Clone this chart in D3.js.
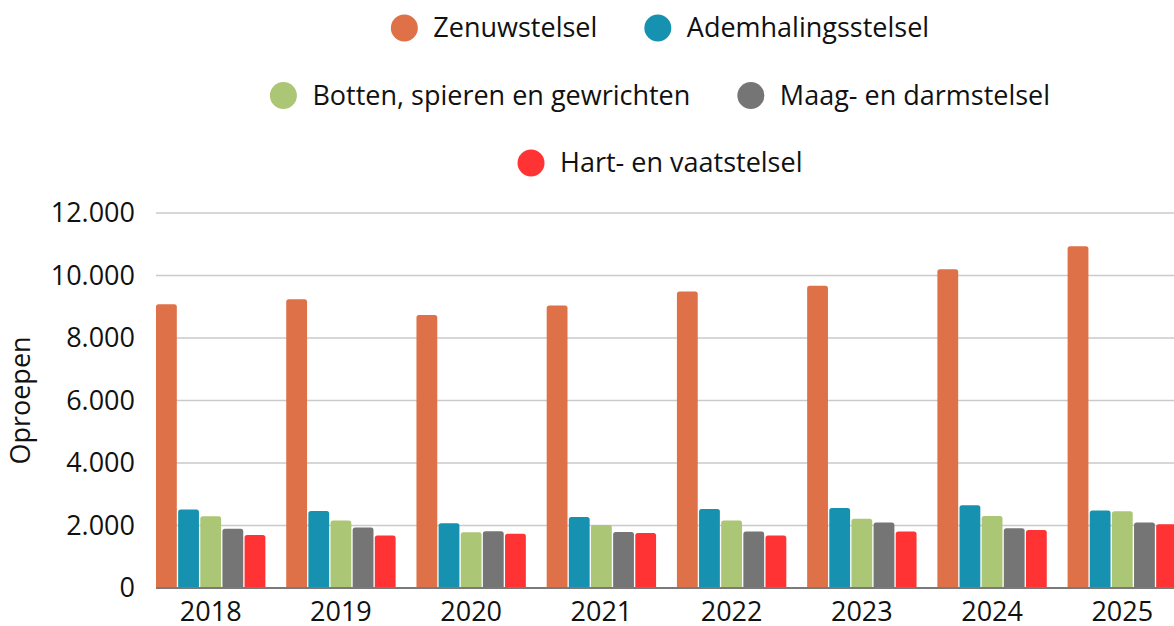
<!DOCTYPE html>
<html>
<head>
<meta charset="utf-8">
<script src="https://cdn.jsdelivr.net/npm/d3@7"></script>
<style>
  html, body { margin: 0; padding: 0; background: #fff; overflow: hidden; }
  svg { display: block; font-family: "Open Sans", "Noto Sans", sans-serif; }
</style>
</head>
<body>
<script>
//chart data
var years = ["2018", "2019", "2020", "2021", "2022", "2023", "2024", "2025"];
var seriesNames = ["Zenuwstelsel", "Ademhalingsstelsel", "Botten, spieren en gewrichten", "Maag- en darmstelsel", "Hart- en vaatstelsel"];
var seriesColors = ["#de7148", "#1692b0", "#abc674", "#757575", "#ff3333"];
var zenuw = [9080, 9240, 8740, 9040, 9490, 9670, 10200, 10940];
var adem = [2510, 2465, 2070, 2275, 2530, 2560, 2645, 2480];
var botten = [2295, 2160, 1785, 2020, 2160, 2220, 2305, 2455];
var maag = [1900, 1935, 1815, 1795, 1805, 2095, 1910, 2095];
var hart = [1700, 1680, 1740, 1760, 1680, 1805, 1860, 2040];
var yTicks = [0, 2000, 4000, 6000, 8000, 10000, 12000];
var yTitle = "Oproepen";

var values = [zenuw, adem, botten, maag, hart];

//frame
var width = 1174,
    height = 626;
var margin = {left: 156, right: -3, top: 213, bottom: 38};
var plotW = width - margin.left - margin.right,
    plotH = height - margin.top - margin.bottom;
var fontSize = 27;

var svg = d3.select("body").append("svg")
    .attr("width", width)
    .attr("height", height);

//scales
var x0 = d3.scaleBand()
    .domain(years)
    .range([margin.left, margin.left + plotW])
    .paddingInner(0.16)
    .paddingOuter(0);

var x1 = d3.scaleBand()
    .domain(d3.range(seriesNames.length))
    .range([0, x0.bandwidth()])
    .paddingInner(0.06);

var y = d3.scaleLinear()
    .domain([0, 12000])
    .range([margin.top + plotH, margin.top]);

var fmt = function(d){ return d3.format(",")(d).replace(/,/g, "."); };

//gridlines
svg.append("g").selectAll("line")
    .data(yTicks.filter(function(d){ return d > 0; }))
    .enter().append("line")
    .attr("x1", margin.left)
    .attr("x2", width)
    .attr("y1", function(d){ return y(d); })
    .attr("y2", function(d){ return y(d); })
    .attr("stroke", "#cacaca")
    .attr("stroke-width", 1.5);

//y axis labels
var yAxis = d3.axisLeft(y).tickValues(yTicks).tickFormat(fmt).tickSize(0).tickPadding(0);
var gy = svg.append("g")
    .attr("transform", "translate(135,0)")
    .call(yAxis);
gy.select(".domain").remove();
gy.selectAll("text")
    .attr("font-size", fontSize)
    .attr("fill", "#111")
    .attr("font-family", "Open Sans");

//y title
svg.append("text")
    .attr("transform", "translate(30," + (margin.top + plotH / 2) + ") rotate(-90)")
    .attr("text-anchor", "middle")
    .attr("font-size", fontSize)
    .attr("fill", "#111")
    .text(yTitle);

//bars with rounded tops
function barPath(xp, w, yTop, yBase){
    var r = Math.min(2.5, (yBase - yTop) / 2);
    return "M" + xp + "," + yBase +
        "V" + (yTop + r) +
        "Q" + xp + "," + yTop + " " + (xp + r) + "," + yTop +
        "H" + (xp + w - r) +
        "Q" + (xp + w) + "," + yTop + " " + (xp + w) + "," + (yTop + r) +
        "V" + yBase + "Z";
}

var groups = svg.append("g").selectAll("g")
    .data(years)
    .enter().append("g")
    .attr("transform", function(d){ return "translate(" + x0(d) + ",0)"; });

groups.selectAll("path")
    .data(function(d, i){
        return values.map(function(s, k){ return {k: k, v: s[i]}; });
    })
    .enter().append("path")
    .attr("d", function(d){
        return barPath(x1(d.k), x1.bandwidth(), y(d.v), y(0));
    })
    .attr("fill", function(d){ return seriesColors[d.k]; });

//baseline
svg.append("line")
    .attr("x1", margin.left)
    .attr("x2", width)
    .attr("y1", y(0))
    .attr("y2", y(0))
    .attr("stroke", "#7a7a7a")
    .attr("stroke-width", 2);

//x axis labels
var xAxis = d3.axisBottom(x0).tickSize(0).tickPadding(0);
var gx = svg.append("g")
    .attr("transform", "translate(0," + (y(0) + 14) + ")")
    .call(xAxis);
gx.select(".domain").remove();
gx.selectAll("text")
    .attr("font-size", fontSize)
    .attr("fill", "#111")
    .attr("font-family", "Open Sans");

//legend, wrapped into centred rows
var legend = svg.append("g");
var items = seriesNames.map(function(name, i){
    var g = legend.append("g");
    g.append("circle").attr("r", 13.5).attr("cx", 13.5).attr("fill", seriesColors[i]);
    var t = g.append("text")
        .attr("x", 42.5)
        .attr("dy", "0.35em")
        .attr("font-size", fontSize)
        .attr("fill", "#111")
        .text(name);
    return {g: g, w: 42.5 + t.node().getComputedTextLength()};
});

var maxRow = 850, gap = 47, rows = [[]], rowW = [0];
items.forEach(function(it){
    var r = rows.length - 1;
    var add = (rows[r].length ? gap : 0) + it.w;
    if (rows[r].length && rowW[r] + add > maxRow){
        rows.push([it]); rowW.push(it.w);
    } else {
        rows[r].push(it); rowW[r] += add;
    }
});

var legendCx = 660, rowY0 = 28, rowStep = 67.5;
rows.forEach(function(row, r){
    var xp = legendCx - rowW[r] / 2;
    row.forEach(function(it){
        it.g.attr("transform", "translate(" + xp + "," + (rowY0 + r * rowStep) + ")");
        xp += it.w + gap;
    });
});
</script>
</body>
</html>
